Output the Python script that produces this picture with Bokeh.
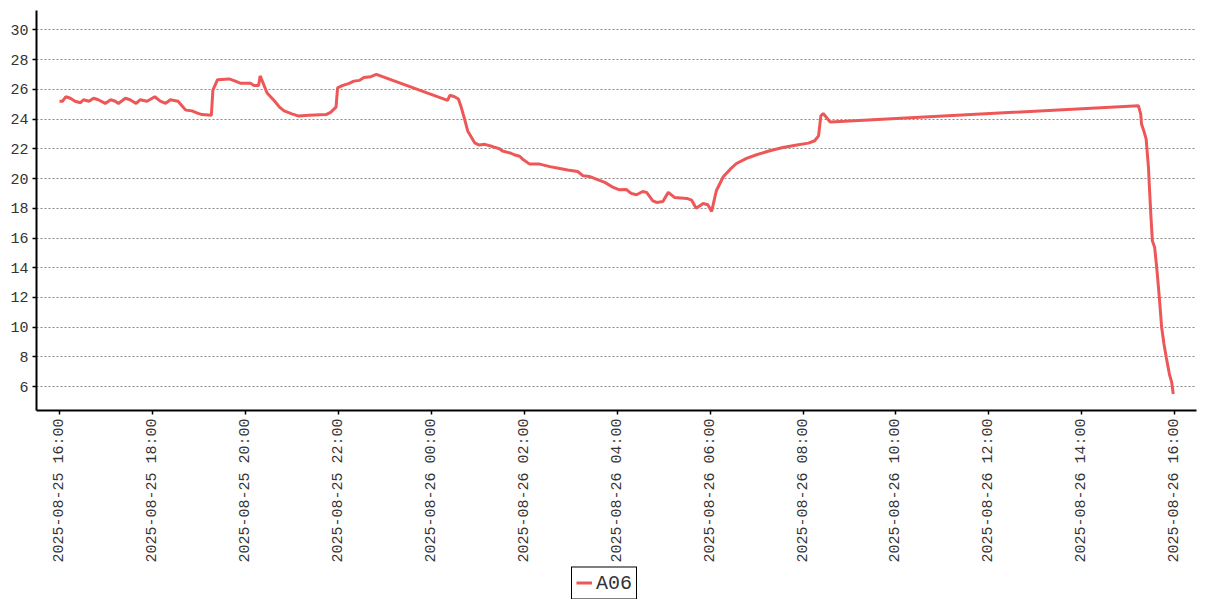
import math
import pandas as pd
from bokeh.plotting import figure
from bokeh.layouts import column
from bokeh.models import (ColumnDataSource, Range1d, FixedTicker, DatetimeTickFormatter,
                          Legend, LegendItem)
from bokeh.embed import file_html
from bokeh.resources import INLINE

# ---- data ----
series_name = "A06"
times = [
    "2025-08-25 16:00", "2025-08-25 16:04", "2025-08-25 16:08", "2025-08-25 16:14", "2025-08-25 16:20",
    "2025-08-25 16:27", "2025-08-25 16:31", "2025-08-25 16:38", "2025-08-25 16:44", "2025-08-25 16:50",
    "2025-08-25 16:59", "2025-08-25 17:06", "2025-08-25 17:12", "2025-08-25 17:16", "2025-08-25 17:25",
    "2025-08-25 17:31", "2025-08-25 17:39", "2025-08-25 17:44", "2025-08-25 17:53", "2025-08-25 18:03",
    "2025-08-25 18:10", "2025-08-25 18:17", "2025-08-25 18:23", "2025-08-25 18:33", "2025-08-25 18:38",
    "2025-08-25 18:43", "2025-08-25 18:51", "2025-08-25 18:58", "2025-08-25 19:04", "2025-08-25 19:16",
    "2025-08-25 19:18", "2025-08-25 19:24", "2025-08-25 19:39", "2025-08-25 19:47", "2025-08-25 19:54",
    "2025-08-25 20:07", "2025-08-25 20:11", "2025-08-25 20:17", "2025-08-25 20:19", "2025-08-25 20:23",
    "2025-08-25 20:28", "2025-08-25 20:37", "2025-08-25 20:44", "2025-08-25 20:50", "2025-08-25 21:00",
    "2025-08-25 21:09", "2025-08-25 21:22", "2025-08-25 21:44", "2025-08-25 21:50", "2025-08-25 21:57",
    "2025-08-25 21:59", "2025-08-25 22:05", "2025-08-25 22:14", "2025-08-25 22:20", "2025-08-25 22:27",
    "2025-08-25 22:33", "2025-08-25 22:42", "2025-08-25 22:49",
    "2025-08-26 00:21", "2025-08-26 00:24", "2025-08-26 00:30", "2025-08-26 00:35", "2025-08-26 00:38",
    "2025-08-26 00:43", "2025-08-26 00:47", "2025-08-26 00:56", "2025-08-26 01:02", "2025-08-26 01:09",
    "2025-08-26 01:19", "2025-08-26 01:28", "2025-08-26 01:32", "2025-08-26 01:43", "2025-08-26 01:47",
    "2025-08-26 01:54", "2025-08-26 01:58", "2025-08-26 02:07", "2025-08-26 02:20", "2025-08-26 02:33",
    "2025-08-26 02:46", "2025-08-26 02:56", "2025-08-26 03:09", "2025-08-26 03:16", "2025-08-26 03:24",
    "2025-08-26 03:33", "2025-08-26 03:44", "2025-08-26 03:55", "2025-08-26 04:03", "2025-08-26 04:12",
    "2025-08-26 04:18", "2025-08-26 04:25", "2025-08-26 04:33", "2025-08-26 04:38", "2025-08-26 04:46",
    "2025-08-26 04:51", "2025-08-26 04:59", "2025-08-26 05:06", "2025-08-26 05:14", "2025-08-26 05:30",
    "2025-08-26 05:36", "2025-08-26 05:42", "2025-08-26 05:51", "2025-08-26 05:57", "2025-08-26 06:02",
    "2025-08-26 06:08", "2025-08-26 06:17", "2025-08-26 06:26", "2025-08-26 06:34", "2025-08-26 06:47",
    "2025-08-26 07:00", "2025-08-26 07:17", "2025-08-26 07:34", "2025-08-26 07:52", "2025-08-26 08:07",
    "2025-08-26 08:15", "2025-08-26 08:20", "2025-08-26 08:23", "2025-08-26 08:26", "2025-08-26 08:35",
    "2025-08-26 08:54",
    "2025-08-26 15:13", "2025-08-26 15:16", "2025-08-26 15:17", "2025-08-26 15:20", "2025-08-26 15:23",
    "2025-08-26 15:26", "2025-08-26 15:27", "2025-08-26 15:29", "2025-08-26 15:31", "2025-08-26 15:34",
    "2025-08-26 15:37", "2025-08-26 15:40", "2025-08-26 15:43", "2025-08-26 15:46", "2025-08-26 15:49",
    "2025-08-26 15:53", "2025-08-26 15:56", "2025-08-26 15:58",
]
temps = [
    25.2, 25.2, 25.5, 25.4, 25.2,
    25.1, 25.3, 25.2, 25.4, 25.3,
    25.05, 25.3, 25.2, 25.05, 25.4,
    25.3, 25.05, 25.3, 25.2, 25.5,
    25.2, 25.05, 25.3, 25.2, 24.9,
    24.6, 24.55, 24.4, 24.3, 24.25,
    25.95, 26.65, 26.7, 26.55, 26.4,
    26.4, 26.25, 26.25, 26.9, 26.4,
    25.75, 25.25, 24.8, 24.55, 24.35,
    24.2, 24.25, 24.3, 24.45, 24.8,
    26.1, 26.25, 26.4, 26.55, 26.6,
    26.8, 26.85, 27.0,
    25.25, 25.6, 25.5, 25.35, 24.9,
    24.0, 23.2, 22.4, 22.25, 22.3,
    22.15, 22.0, 21.85, 21.7, 21.6,
    21.5, 21.3, 20.97, 20.97, 20.8,
    20.68, 20.57, 20.47, 20.18, 20.14,
    19.96, 19.74, 19.4, 19.24, 19.26,
    19.0, 18.91, 19.13, 19.07, 18.5,
    18.39, 18.46, 19.07, 18.73, 18.66,
    18.55, 18.0, 18.32, 18.24, 17.79,
    19.18, 20.12, 20.63, 21.01, 21.35,
    21.6, 21.87, 22.09, 22.25, 22.38,
    22.54, 22.87, 24.22, 24.37, 23.8,
    23.85,
    24.9, 24.33, 23.66, 23.2, 22.65,
    20.74, 19.63, 17.61, 15.82, 15.37,
    13.8, 12.0, 9.99, 8.87, 7.97,
    6.85, 6.29, 5.51,
]
x_tick_times = ["2025-08-25 16:00", "2025-08-25 18:00", "2025-08-25 20:00", "2025-08-25 22:00",
                "2025-08-26 00:00", "2025-08-26 02:00", "2025-08-26 04:00", "2025-08-26 06:00",
                "2025-08-26 08:00", "2025-08-26 10:00", "2025-08-26 12:00", "2025-08-26 14:00",
                "2025-08-26 16:00"]
y_ticks = [6, 8, 10, 12, 14, 16, 18, 20, 22, 24, 26, 28, 30]

FONT = "Liberation Mono"
LINE_COLOR = "#EE5757"

src = ColumnDataSource(dict(t=pd.to_datetime(times), v=temps))

x_start = pd.Timestamp("2025-08-25 15:30:15")
x_end = pd.Timestamp("2025-08-26 16:28:00")

p = figure(width=1199, height=566, x_axis_type="datetime",
           x_range=Range1d(x_start, x_end), y_range=Range1d(4.4, 31.3),
           output_backend="svg", toolbar_location=None,
           min_border_left=36, min_border_right=3, min_border_top=10, min_border_bottom=156)

r = p.line("t", "v", source=src, line_color=LINE_COLOR, line_width=3)

p.outline_line_color = None
p.background_fill_color = "white"
p.border_fill_color = "white"

p.xgrid.grid_line_color = None
p.ygrid.grid_line_color = "#888888"
p.ygrid.grid_line_dash = "2 2"
p.ygrid.grid_line_width = 1

tick_ms = [pd.Timestamp(s).value // 10**6 for s in x_tick_times]
p.xaxis.ticker = FixedTicker(ticks=tick_ms)
fmt = "%Y-%m-%d %H:%M"
p.xaxis.formatter = DatetimeTickFormatter(milliseconds=fmt, seconds=fmt, minsec=fmt, minutes=fmt,
                                          hourmin=fmt, hours=fmt, days=fmt, months=fmt, years=fmt)
p.xaxis.major_label_orientation = math.pi / 2
p.yaxis.ticker = FixedTicker(ticks=y_ticks)

for ax in (p.xaxis[0], p.yaxis[0]):
    ax.axis_line_color = "black"
    ax.axis_line_width = 2
    ax.major_tick_line_color = "black"
    ax.major_tick_line_width = 1.5
    ax.major_tick_out = 4
    ax.major_tick_in = 0
    ax.minor_tick_out = 0
    ax.minor_tick_in = 0
    ax.major_label_text_font = FONT
    ax.major_label_text_font_size = "15px"
    ax.major_label_text_color = "#333333"
    ax.major_label_standoff = 4

# legend strip below the chart (its line renderer lies outside the strip's ranges, so only the key shows)
leg_fig = figure(width=1175, height=33, x_range=Range1d(0, 1), y_range=Range1d(0, 1),
                 output_backend="svg", toolbar_location=None,
                 x_axis_location=None, y_axis_location=None, min_border=0)
leg_fig.outline_line_color = None
leg_fig.xgrid.visible = False
leg_fig.ygrid.visible = False
leg_r = leg_fig.line("t", "v", source=src, line_color=LINE_COLOR, line_width=3)
legend = Legend(items=[LegendItem(label=series_name, renderers=[leg_r])],
                location="center", orientation="horizontal",
                label_text_font=FONT, label_text_font_size="20px", label_text_color="#333333",
                border_line_color="black", border_line_width=1, border_line_alpha=1,
                background_fill_color="white", background_fill_alpha=1,
                glyph_width=16, glyph_height=20, label_standoff=4, padding=4, margin=0,
                label_height=20)
leg_fig.add_layout(legend, "center")

layout = column(p, leg_fig, spacing=0)
open("out.html", "w").write(file_html(layout, INLINE))
